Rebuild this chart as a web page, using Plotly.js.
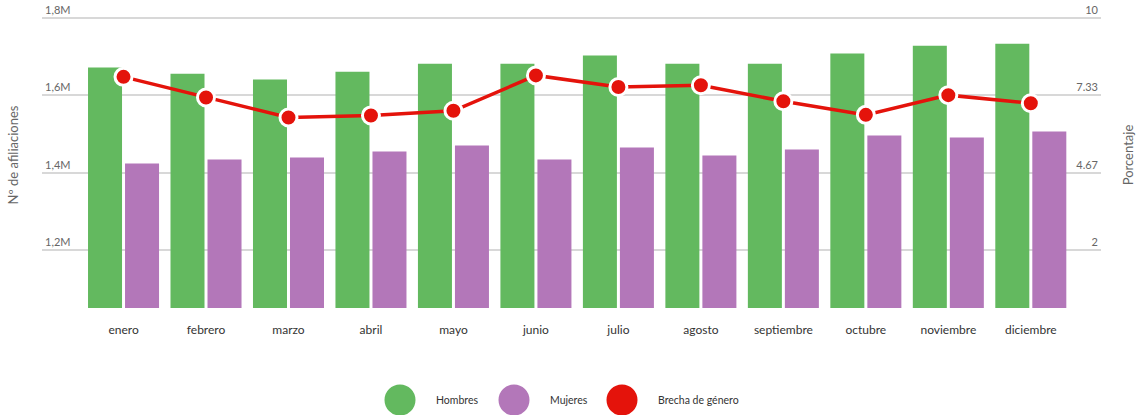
<!DOCTYPE html>
<html>
<head>
<meta charset="utf-8">
<script src="https://cdn.plot.ly/plotly-3.0.1.min.js"></script>
<style>
html,body{margin:0;padding:0;background:#fff;}
#chart{width:1143px;height:415px;}
</style>
</head>
<body>
<div id="chart"></div>
<script>
const months = ["enero","febrero","marzo","abril","mayo","junio","julio","agosto","septiembre","octubre","noviembre","diciembre"];
const hombres = [1671700,1656000,1641000,1661000,1682000,1682000,1702700,1682000,1682000,1708000,1728500,1733700];
const mujeres = [1423900,1434200,1439300,1454800,1470300,1434200,1465200,1444500,1460000,1496100,1491000,1506500];
const brecha = [7.97,7.26,6.57,6.64,6.80,8.02,7.62,7.68,7.13,6.66,7.34,7.06];

const leftTickVals = [1200000,1400000,1600000,1800000];
const leftTickText = ["1,2M","1,4M","1,6M","1,8M"];
const rightTickVals = [2,4.6667,7.3333,10];
const rightTickText = ["2","4.67","7.33","10"];

const legendNames = ["Hombres","Mujeres","Brecha de género"];
const colors = {h:"#63b95f", m:"#b377b9", b:"#e4130b"};
const FONT = "Lato, 'Open Sans', sans-serif";

const traces = [
  {type:"bar", name:legendNames[0], x:months, y:hombres, marker:{color:colors.h}, hoverinfo:"x+y"},
  {type:"bar", name:legendNames[1], x:months, y:mujeres, marker:{color:colors.m}, hoverinfo:"x+y"},
  {type:"scatter", mode:"lines+markers", name:legendNames[2], x:months, y:brecha, yaxis:"y2",
   line:{color:colors.b, width:3.5},
   marker:{color:colors.b, size:17, line:{color:"#ffffff", width:3}}, cliponaxis:false}
];

// layout geometry: 1.8M / 10 sit at y=18, 1.05M / 0 at y=308
const W = 1143, H = 415, L = 42, R = 42, T = 2, B = 107;
const plotW = W - L - R, plotH = H - T - B;
const pxPerUnitL = 750000 / 290, pxPerUnitR = 10 / 290;
const extra = 16;
const yTopL = 1800000 + extra * pxPerUnitL;
const yTopR = 10 + extra * pxPerUnitR;

// manual legend (large circular symbols)
const legendX = [400,514,622];
const shapes = [], annotations = [];
const legendY = 400;
const py = (T + plotH - legendY) / plotH;
[colors.h, colors.m, colors.b].forEach((c,i)=>{
  const px = (legendX[i] - L) / plotW;
  shapes.push({type:"circle", xref:"paper", yref:"paper", xsizemode:"pixel", ysizemode:"pixel",
    xanchor:px, yanchor:py, x0:-15.5, x1:15.5, y0:-15.5, y1:15.5, fillcolor:c, line:{width:0}});
  annotations.push({xref:"paper", yref:"paper", x:(legendX[i]+34-L)/plotW, y:py, xanchor:"left", yanchor:"middle",
    text:legendNames[i], showarrow:false, font:{family:FONT, size:10.5, color:"#333"}});
});

const layout = {
  width:W, height:H,
  margin:{l:L, r:R, t:T, b:B, autoexpand:false},
  paper_bgcolor:"#fff", plot_bgcolor:"#fff",
  font:{family:FONT, size:12, color:"#333"},
  showlegend:false,
  barmode:"group", bargap:0.1025, bargroupgap:0.081,
  xaxis:{type:"category", range:[-0.9885, 11.851], showgrid:false, zeroline:false, showline:false,
    ticks:"", tickfont:{family:FONT, size:12, color:"#333"}, ticklabelstandoff:13, fixedrange:true},
  yaxis:{range:[1050000, yTopL], tickvals:leftTickVals, ticktext:leftTickText,
    ticklabelposition:"inside top", tickfont:{family:FONT, size:11, color:"#666"},
    showgrid:true, gridcolor:"#d8d8d8", gridwidth:1.5, zeroline:false, showline:false, ticks:"",
    title:{text:"Nº de afiliaciones", font:{family:FONT, size:13, color:"#666"}, standoff:23}},
  yaxis2:{range:[0, yTopR], overlaying:"y", side:"right", tickvals:rightTickVals, ticktext:rightTickText,
    ticklabelposition:"inside top", tickfont:{family:FONT, size:11, color:"#666"},
    showgrid:false, zeroline:false, showline:false, ticks:"",
    title:{text:"Porcentaje", font:{family:FONT, size:13, color:"#666"}, standoff:26}},
  shapes:shapes, annotations:annotations
};

Plotly.newPlot("chart", traces, layout, {displayModeBar:false});
</script>
</body>
</html>
